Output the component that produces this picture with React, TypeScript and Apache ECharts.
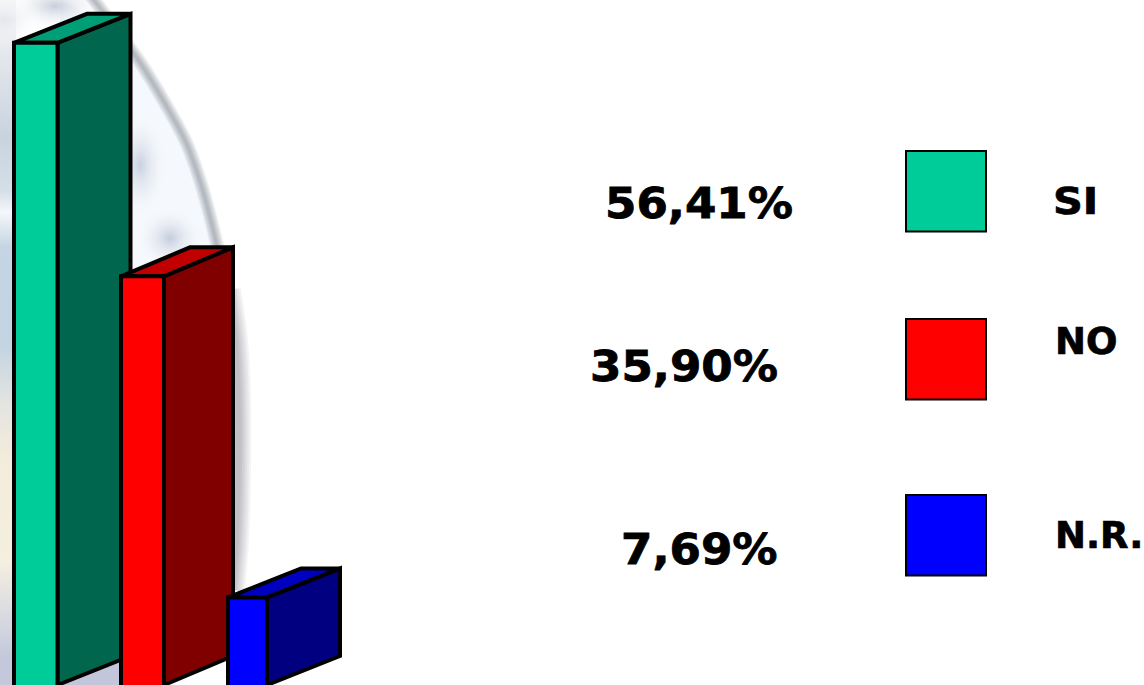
import React, { useEffect, useRef } from "react";
import * as echarts from "echarts";

const categories = ["SI", "NO", "N.R."];
const values = [56.41, 35.9, 7.69];
const valueLabels = ["56,41%", "35,90%", "7,69%"];

const FRONT = ["#00CC99", "#FF0000", "#0000FF"];
const SIDE = ["#00664D", "#800000", "#000080"];
const TOP = ["#009E77", "#C00000", "#0000C0"];
const FRONT_W = [43.5, 43, 39];
const DEPTH_X = [73, 69, 73];
const DY = 29;
const FONT = "'DejaVu Sans', Verdana, sans-serif";

const softLines = (points: number[][], widths: number[], alpha: number) =>
  widths.map((w) => ({
    type: "polyline",
    z: -5,
    silent: true,
    shape: { points, smooth: 0.3 },
    style: {
      stroke: `rgba(110,114,122,${alpha})`,
      lineWidth: w,
      fill: "none",
      lineCap: "butt",
    },
  }));

const blob = (cx: number, cy: number, rx: number, ry: number, color: string) => ({
  type: "ellipse",
  z: -6,
  silent: true,
  shape: { cx, cy, rx, ry },
  style: {
    fill: {
      type: "radial",
      x: 0.5,
      y: 0.5,
      r: 0.5,
      colorStops: [
        { offset: 0, color },
        { offset: 1, color: "rgba(255,255,255,0)" },
      ],
    },
  },
});

const arc = [
  [88, -8],
  [115, 28],
  [140, 62],
  [165, 103],
  [187, 144],
  [203, 190],
  [214, 232],
  [225, 280],
];
const arcLow = [
  [228, 290],
  [235, 340],
  [238, 400],
  [238, 470],
  [236, 540],
  [232, 590],
];

const stripStops: [number, string][] = [
  [0, "#f4f4f6"],
  [0.09, "#e2e6ec"],
  [0.2, "#c9d3de"],
  [0.28, "#d6dfe8"],
  [0.31, "#f4f7fa"],
  [0.36, "#c6d5e3"],
  [0.5, "#c2d3e2"],
  [0.59, "#e4e4e0"],
  [0.67, "#f3ecdc"],
  [0.82, "#f5efe0"],
  [0.89, "#dcdce2"],
  [0.96, "#c4c8da"],
  [1, "#c4c8da"],
];

const legendRows = [
  { y: 151, tx: 1053, ty: 201, sx: 1.12 },
  { y: 319, tx: 1055, ty: 341, sx: 1 },
  { y: 495, tx: 1055, ty: 535, sx: 1 },
];
const labelRows = [
  { x: 605, y: 203 },
  { x: 590, y: 366 },
  { x: 621, y: 549 },
];

export default function App() {
  const ref = useRef<HTMLDivElement>(null);
  useEffect(() => {
    const chart = echarts.init(ref.current!, null, { renderer: "svg" });
    const graphic: any[] = [
      {
        type: "rect",
        z: -8,
        silent: true,
        shape: { x: 0, y: 0, width: 16, height: 685 },
        style: {
          fill: {
            type: "linear",
            x: 0,
            y: 0,
            x2: 0,
            y2: 1,
            colorStops: stripStops.map(([offset, color]) => ({ offset, color })),
          },
        },
      },
      {
        type: "polygon",
        z: -7,
        silent: true,
        shape: {
          points: [[60, 0], ...arc.slice(1), [225, 340], [120, 340], [60, 200]],
        },
        style: { fill: "#f5f8fc" },
      },
      blob(55, 6, 50, 26, "rgba(190,198,212,0.85)"),
      blob(4, 20, 40, 28, "rgba(226,229,236,0.9)"),
      blob(140, 165, 30, 58, "rgba(198,206,222,0.95)"),
      blob(170, 238, 36, 34, "rgba(196,204,220,1)"),
      {
        type: "rect",
        z: -6,
        silent: true,
        shape: { x: 60, y: 655, width: 62, height: 30 },
        style: { fill: "#c3c6da" },
      },
      ...softLines(arc, [14, 12, 10, 8, 6, 4, 2.5], 0.085),
      ...softLines(arcLow, [26, 22, 18, 14, 11, 8, 5], 0.075),
    ];
    categories.forEach((name, i) => {
      const row = legendRows[i];
      const lab = labelRows[i];
      graphic.push(
        {
          type: "rect",
          z: 5,
          shape: { x: 906, y: row.y, width: 80, height: 80.5 },
          style: { fill: FRONT[i], stroke: "#000", lineWidth: 2 },
        },
        {
          type: "text",
          z: 5,
          x: row.tx,
          y: row.ty,
          scaleX: row.sx,
          style: {
            text: name,
            fill: "#000",
            stroke: "#000",
            lineWidth: 0.7,
            font: `bold 37px ${FONT}`,
            textAlign: "left",
            textVerticalAlign: "middle",
          },
        },
        {
          type: "text",
          z: 5,
          x: lab.x,
          y: lab.y,
          scaleX: 1.05,
          style: {
            text: valueLabels[i],
            fill: "#000",
            stroke: "#000",
            lineWidth: 0.8,
            font: `bold 43px ${FONT}`,
            textAlign: "left",
            textVerticalAlign: "middle",
          },
        }
      );
    });

    chart.setOption({
      animation: false,
      backgroundColor: "#ffffff",
      grid: { left: 14, width: 214, top: 2, height: 684.5 },
      xAxis: { type: "category", data: categories, boundaryGap: false, show: false },
      yAxis: { type: "value", min: 0, max: 60, show: false },
      graphic,
      series: [
        {
          type: "custom",
          clip: false,
          encode: { x: 0, y: 1 },
          data: values.map((v, i) => [i, v]),
          renderItem: (_: any, api: any) => {
            const i = api.value(0);
            const [x, y] = api.coord([i, api.value(1)]);
            const [, y0] = api.coord([i, 0]);
            const x1 = x + FRONT_W[i];
            const dx = DEPTH_X[i];
            const common = { stroke: "#000", lineWidth: 4, lineJoin: "miter" };
            const poly = (points: number[][], fill: string) => ({
              type: "polygon",
              shape: { points },
              style: { ...common, fill },
            });
            return {
              type: "group",
              children: [
                poly(
                  [
                    [x1, y],
                    [x1 + dx, y - DY],
                    [x1 + dx, y0 - DY],
                    [x1, y0],
                  ],
                  SIDE[i]
                ),
                poly(
                  [
                    [x, y],
                    [x + dx, y - DY],
                    [x1 + dx, y - DY],
                    [x1, y],
                  ],
                  TOP[i]
                ),
                poly(
                  [
                    [x, y],
                    [x1, y],
                    [x1, y0 + 12],
                    [x, y0 + 12],
                  ],
                  FRONT[i]
                ),
              ],
            };
          },
        },
      ],
    });
    return () => chart.dispose();
  }, []);
  return (
    <div
      ref={ref}
      style={{ position: "fixed", left: 0, top: 0, width: 1144, height: 685 }}
    />
  );
}
